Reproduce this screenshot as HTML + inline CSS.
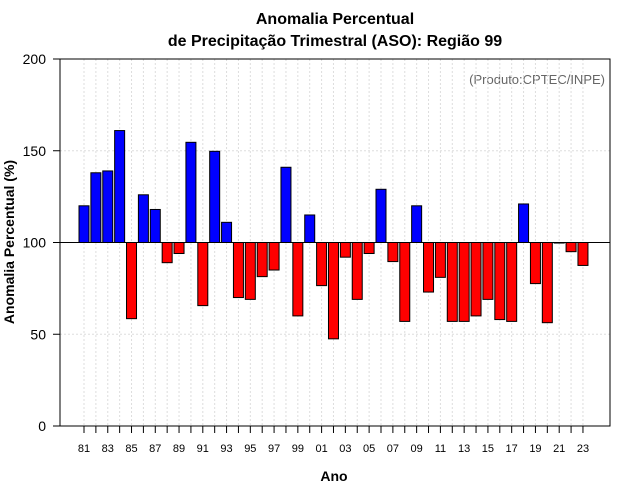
<!DOCTYPE html>
<html><head><meta charset="utf-8"><style>
body{margin:0;background:#fff;}
svg{display:block;font-family:"Liberation Sans",sans-serif;}
</style></head><body>
<svg id="chart" width="640" height="500">
<text x="335" y="24" text-anchor="middle" font-size="16" font-weight="bold">Anomalia Percentual</text>
<text x="335" y="46" text-anchor="middle" font-size="16" font-weight="bold">de Precipitação Trimestral (ASO): Região 99</text>
<text x="605" y="84" text-anchor="end" font-size="13" fill="#666">(Produto:CPTEC/INPE)</text>
<text x="334" y="481" text-anchor="middle" font-size="14" font-weight="bold">Ano</text>
<text transform="translate(14,242) rotate(-90)" text-anchor="middle" font-size="14" font-weight="bold">Anomalia Percentual (%)</text>
<g id="grid"></g><g id="bars"></g><g id="axes"></g>
</svg>
<script>
const years=[81,82,83,84,85,86,87,88,89,90,91,92,93,94,95,96,97,98,99,0,1,2,3,4,5,6,7,8,9,10,11,12,13,14,15,16,17,18,19,20,21,22,23];
const values=[120,138,139,161,58.5,126,118,89,94,154.6,65.6,149.7,111,70,69,81.4,85,141,60,115,76.5,47.5,92,69,94,129,89.6,57,120,73,81,57,57,60,69,58,57,121,77.6,56.3,99.7,95,87.5];
const yTicks=[0,50,100,150,200];
const NS="http://www.w3.org/2000/svg";
const L=60,R=610,T=59,B=426,x0=84,dx=11.88,bw=10;
const xs=i=>x0+i*dx;
const ys=v=>B-(v/200)*(B-T);
function mk(tag,at,parent){const e=document.createElementNS(NS,tag);for(const k in at)e.setAttribute(k,at[k]);parent.appendChild(e);return e;}
const grid=document.getElementById('grid'),bars=document.getElementById('bars'),axes=document.getElementById('axes');
years.forEach((y,i)=>{const g=mk('line',{x1:xs(i),x2:xs(i),y1:T,y2:B,stroke:'#ddd','stroke-dasharray':'2,2'},grid);

});
yTicks.forEach(v=>{if(v>0&&v<200&&v!==100){const g=mk('line',{x1:L,x2:R,y1:ys(v),y2:ys(v),stroke:'#ddd','stroke-dasharray':'2,2'},grid);

}});
values.forEach((v,i)=>{const top=Math.min(ys(v),ys(100)),h=Math.abs(ys(v)-ys(100));
const r=mk('rect',{x:xs(i)-bw/2,y:top,width:bw,height:h,fill:v>=100?'#0000ff':'#ff0000',stroke:'#000','stroke-width':1},bars);

});
const base=mk('line',{x1:L,x2:R,y1:ys(100),y2:ys(100),stroke:'#000'},axes);


const box=mk('rect',{x:L,y:T,width:R-L,height:B-T,fill:'none',stroke:'#000'},axes);


yTicks.forEach(v=>{mk('line',{x1:L-7,x2:L,y1:ys(v),y2:ys(v),stroke:'#000'},axes);
const t=mk('text',{x:L-14,y:ys(v)+5,'text-anchor':'end','font-size':14},axes);t.textContent=v;

});
years.forEach((y,i)=>{mk('line',{x1:xs(i),x2:xs(i),y1:B,y2:B+7,stroke:'#000'},axes);
if(i%2===0){const t=mk('text',{x:xs(i),y:452,'text-anchor':'middle','font-size':11},axes);t.textContent=String(y).padStart(2,'0');

}});
</script>
</body></html>
